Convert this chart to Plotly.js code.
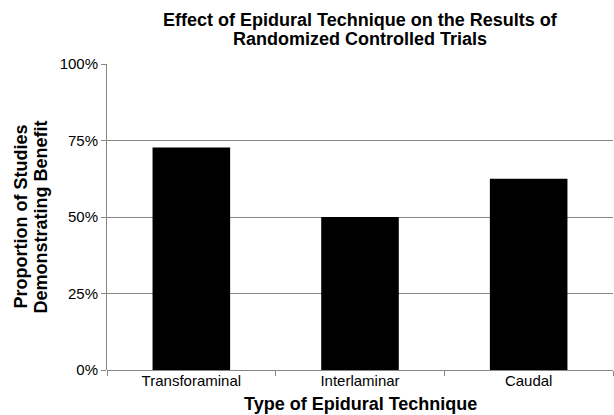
<!DOCTYPE html>
<html>
<head>
<meta charset="utf-8">
<script src="https://cdn.plot.ly/plotly-3.0.1.min.js"></script>
<style>html,body{margin:0;padding:0;background:#fff;}#chart{width:614px;height:415px;}</style>
</head>
<body>
<div id="chart"></div>
<script>
const categories = ['Transforaminal', 'Interlaminar', 'Caudal'];
const values = [72.7, 50, 62.5];
const yTickVals = [0, 25, 50, 75, 100];
const yTickText = ['0%', '25%', '50%', '75%', '100%'];
const titleLines = ['Effect of Epidural Technique on the Results of', 'Randomized Controlled Trials'];
const yTitleLines = ['Proportion of Studies', 'Demonstrating Benefit'];
const xTitle = 'Type of Epidural Technique';

const FONT = 'Liberation Sans, Arial, Helvetica, sans-serif';
const GRID = '#868686';

const W = 614, H = 415;
const M = {l: 106.5, r: 1, t: 64, b: 45};
const PW = W - M.l - M.r, PH = H - M.t - M.b;
// pixel -> paper helpers for text placement
const px = x => (x - M.l) / PW;
const py = y => (H - M.b - y) / PH;

const data = [{
  type: 'bar',
  x: categories,
  y: values,
  marker: {color: '#000000', line: {width: 0}},
  width: 0.46,
  hoverinfo: 'skip'
}];

const bold = s => '<b>' + s + '</b>';
const annotations = [
  {text: bold(titleLines[0]), x: 0.5, y: py(20), font: {size: 18}},
  {text: bold(titleLines[1]), x: 0.5, y: py(39), font: {size: 18}},
  {text: bold(xTitle), x: 0.5, y: py(404), font: {size: 18}},
  {text: bold(yTitleLines[0]), x: px(20), y: py(217), textangle: -90, font: {size: 18}},
  {text: bold(yTitleLines[1]), x: px(40), y: py(217), textangle: -90, font: {size: 18}}
].map(a => Object.assign({
  xref: 'paper', yref: 'paper', xanchor: 'center', yanchor: 'middle',
  showarrow: false
}, a, {font: Object.assign({family: FONT, color: '#000000'}, a.font)}));

const layout = {
  width: W, height: H,
  margin: {l: M.l, r: M.r, t: M.t, b: M.b, pad: 0},
  paper_bgcolor: '#ffffff', plot_bgcolor: '#ffffff',
  font: {family: FONT, color: '#000000', size: 15},
  showlegend: false,
  annotations: annotations,
  xaxis: {
    type: 'category',
    showgrid: false, zeroline: false, showline: false,
    ticks: 'outside', tickson: 'boundaries', ticklen: 5, tickcolor: GRID, tickwidth: 1,
    tickfont: {family: FONT, size: 15, color: '#000000'}
  },
  yaxis: {
    range: [0, 100], tickmode: 'array', tickvals: yTickVals, ticktext: yTickText,
    showgrid: true, gridcolor: GRID, gridwidth: 1,
    zeroline: true, zerolinecolor: GRID, zerolinewidth: 1,
    showline: true, linecolor: GRID, linewidth: 1,
    ticks: 'outside', ticklen: 5, tickcolor: GRID, tickwidth: 1,
    tickfont: {family: FONT, size: 15, color: '#000000'}
  }
};

Plotly.newPlot('chart', data, layout, {staticPlot: true, displayModeBar: false});
</script>
</body>
</html>
